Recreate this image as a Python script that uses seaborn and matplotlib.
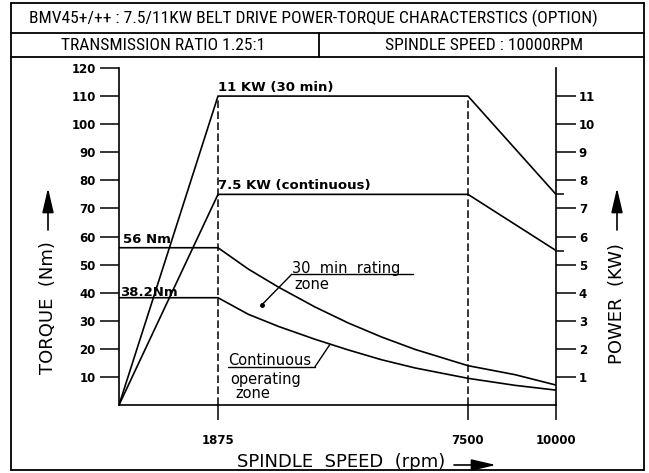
import numpy as np
import matplotlib
matplotlib.use("Agg")
import matplotlib.pyplot as plt
import seaborn as sns

# power curves (kW) against spindle speed (rpm)
power_rpm = [0, 1875, 7500, 10000]
power_30min = [0, 11, 11, 7.5]
power_cont = [0, 7.5, 7.5, 5.5]

# torque curves (Nm)
torque_rpm = [0, 1875, 2557, 3232, 4058, 4807, 5558, 6308, 7500, 8835, 10000]
torque_30min = [56, 56, 48.4, 42.0, 34.9, 29.2, 24.2, 19.8, 14.0, 10.8, 7.1]
torque_cont = [38.2, 38.2, 32.3, 28.0, 23.4, 19.6, 16.1, 13.2, 9.5, 7.0, 5.3]

speed_ticks = [1875, 7500, 10000]
torque_ticks = list(range(10, 130, 10))
power_ticks = list(range(1, 12))
power_marks = [5.5, 7.5]

title = "BMV45+/++ : 7.5/11KW BELT DRIVE POWER-TORQUE CHARACTERSTICS (OPTION)"
sub_left = "TRANSMISSION RATIO 1.25:1"
sub_right = "SPINDLE SPEED : 10000RPM"

# the speed axis of the drawing is not linear: piecewise spacing
knot_rpm = [-1e5, 0, 1875, 7500, 10000, 1e5]
knot_len = [-1e5 * 99 / 1875, 0, 99, 349, 437, 437 + 9e4 * 88 / 2500]


def fwd(x):
    return np.interp(np.asarray(x, float), knot_rpm, knot_len)


def inv(y):
    return np.interp(np.asarray(y, float), knot_len, knot_rpm)


sns.set_theme(style="white")
plt.rcParams["font.family"] = ["DejaVu Sans"]
narrow = ["Liberation Sans Narrow", "Roboto Condensed", "DejaVu Sans"]

W, H = 649, 473
fig = plt.figure(figsize=(W / 100, H / 100), dpi=100)
ax = fig.add_axes([119 / W, 68 / H, 437 / W, 337 / H])
ax.set_xscale("function", functions=(fwd, inv))
ax.set_xlim(0, 10000)
ax.set_ylim(0, 120)
ax2 = ax.twinx()
ax2.set_ylim(0, 12)

lw = 1.2
sns.lineplot(x=torque_rpm, y=torque_30min, ax=ax, color="black", lw=lw)
sns.lineplot(x=torque_rpm, y=torque_cont, ax=ax, color="black", lw=lw)
sns.lineplot(x=power_rpm, y=power_30min, ax=ax2, color="black", lw=lw)
sns.lineplot(x=power_rpm, y=power_cont, ax=ax2, color="black", lw=lw)
ax.vlines(speed_ticks[:2], 0, 110, colors="black", lw=1.1, linestyles=(0, (5, 2.2)))

for a in (ax, ax2):
    for s in a.spines.values():
        s.set_visible(False)
        s.set_color("black")
        s.set_linewidth(1.2)
ax.spines["left"].set_visible(True)
ax.spines["bottom"].set_visible(True)
ax2.spines["right"].set_visible(True)

ax.set_xticks(speed_ticks)
ax.set_xticklabels([str(v) for v in speed_ticks], fontweight="bold", fontsize=8.5)
ax.tick_params(axis="x", which="major", bottom=True, top=False, direction="out",
               length=11, width=1.1, pad=10, colors="black")
ax.tick_params(axis="x", which="minor", bottom=False, top=False)
ax.set_yticks(torque_ticks)
ax.set_yticklabels([str(v) for v in torque_ticks], fontweight="bold", fontsize=8.5)
ax.tick_params(axis="y", left=True, direction="out", length=13.7, width=1.1, pad=3, colors="black")
ax2.set_yticks(power_ticks)
ax2.set_yticklabels([str(v) for v in power_ticks], fontweight="bold", fontsize=8.5)
ax2.set_yticks(power_marks, minor=True)
ax2.tick_params(axis="y", which="major", right=True, direction="out", length=14.4, width=1.1,
                pad=2, colors="black")
ax2.tick_params(axis="y", which="minor", right=True, direction="out", length=5.5, width=1.1,
                colors="black")
ax2.tick_params(axis="x", bottom=False, top=False)
ax.grid(False)
ax2.grid(False)
ax.set_xlabel("")
ax.set_ylabel("")

bold = dict(fontweight="bold", fontsize=9.5, color="black")
ax2.annotate("11 KW (30 min)", xy=(1875, 11), xytext=(0, 1.5), textcoords="offset points",
             ha="left", va="bottom", **bold)
ax2.annotate("7.5 KW (continuous)", xy=(1875, 7.5), xytext=(0, 1.5), textcoords="offset points",
             ha="left", va="bottom", **bold)
ax.annotate("56 Nm", xy=(0, 56), xytext=(3, 1), textcoords="offset points",
            ha="left", va="bottom", **bold)
ax.annotate("38.2Nm", xy=(0, 38.2), xytext=(1, -1), textcoords="offset points",
            ha="left", va="bottom", **bold)


def fx(px):
    return (px - 119) / 437


def fy(py):
    return (405 - py) / 337


note = dict(fontsize=10.5, color="black", transform=ax.transAxes)
ax.text(fx(292), fy(273), "30  min  rating", ha="left", va="baseline", **note)
ax.text(fx(294), fy(277), "zone", ha="left", va="top", **note)
ax.plot([fx(291.7), fx(412.7)], [fy(274.3)] * 2, color="black", lw=1, transform=ax.transAxes)
ax.plot([fx(291.7), fx(261.7)], [fy(274.3), fy(305)], color="black", lw=1, transform=ax.transAxes)
ax.plot([fx(261.7)], [fy(305)], "o", color="black", ms=2.5, transform=ax.transAxes)

ax.text(fx(228.3), fy(365), "Continuous", ha="left", va="baseline", **note)
ax.text(fx(230), fy(372), "operating", ha="left", va="top", **note)
ax.text(fx(235), fy(386), "zone", ha="left", va="top", **note)
ax.plot([fx(228), fx(315)], [fy(366.7)] * 2, color="black", lw=1, transform=ax.transAxes)
ax.plot([fx(315), fx(330)], [fy(366.7), fy(344.3)], color="black", lw=1, transform=ax.transAxes)

# axis titles with arrows
lab = dict(fontsize=13, color="black")
fig.text(48 / W, 1 - 308 / H, "TORQUE  (Nm)", rotation=90, ha="center", va="center", **lab)
fig.text(617 / W, 1 - 304 / H, "POWER  (KW)", rotation=90, ha="center", va="center", **lab)
fig.text(341 / W, 1 - 462 / H, "SPINDLE  SPEED  (rpm)", ha="center", va="center", **lab)
arrow = dict(arrowstyle="-|>,head_length=1.5,head_width=0.35", color="black", lw=1.2,
             mutation_scale=10, shrinkA=0, shrinkB=0)
for x0, y0, x1, y1 in [(48, 230, 48, 188), (617, 230, 617, 188), (454, 465, 496, 465)]:
    fig.add_artist(matplotlib.patches.FancyArrowPatch(
        (x0 / W, 1 - y0 / H), (x1 / W, 1 - y1 / H), transform=fig.transFigure, **arrow))

# header frame
frame = [((11, 11), (3, 470)), ((644, 644), (3, 470)), ((11, 644), (3, 3)),
         ((11, 644), (470, 470)), ((11, 644), (33, 33)), ((11, 644), (57, 57)),
         ((319, 319), (33, 57))]
for xs, ys in frame:
    fig.add_artist(plt.Line2D([x / W for x in xs], [1 - y / H for y in ys],
                              transform=fig.transFigure, color="black", lw=1.3))
head = dict(color="black", family=narrow, va="center")
fig.text(29 / W, 1 - 18 / H, title, ha="left", fontsize=12.6, **head)
fig.text(163 / W, 1 - 45 / H, sub_left, ha="center", fontsize=12.6, **head)
fig.text(484 / W, 1 - 45 / H, sub_right, ha="center", fontsize=12.6, **head)

fig.savefig("out.png", dpi=100, facecolor="white")
